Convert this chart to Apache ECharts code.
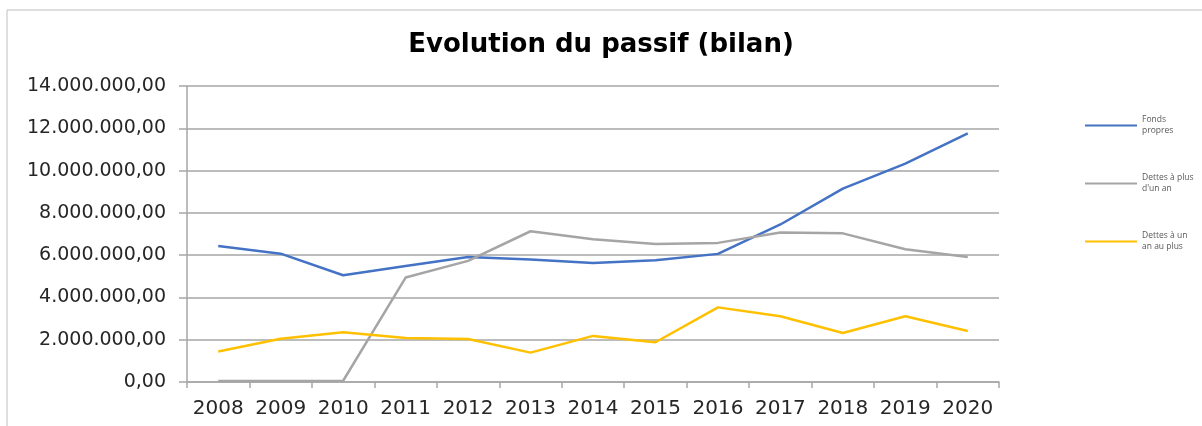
<!DOCTYPE html>
<html>
<head>
<meta charset="utf-8">
<script src="https://cdn.jsdelivr.net/npm/echarts@6/dist/echarts.min.js"></script>
<style>
  html, body { margin: 0; padding: 0; background: #fff; }
  #main { width: 1202px; height: 426px; }
</style>
</head>
<body>
<div id="main"></div>
<script>
var years = ['2008', '2009', '2010', '2011', '2012', '2013', '2014', '2015', '2016', '2017', '2018', '2019', '2020'];

var fondsPropres = [6430000, 6070000, 5050000, 5490000, 5910000, 5790000, 5630000, 5760000, 6060000, 7450000, 9150000, 10330000, 11760000];
var dettesPlusUnAn = [50000, 50000, 60000, 4940000, 5730000, 7130000, 6750000, 6530000, 6580000, 7070000, 7030000, 6280000, 5910000];
var dettesUnAnAuPlus = [1440000, 2050000, 2350000, 2080000, 2030000, 1390000, 2180000, 1880000, 3530000, 3110000, 2320000, 3110000, 2410000];

var seriesNames = ['Fonds propres', 'Dettes à plus d\'un an', 'Dettes à un an au plus'];
var legendLabels = ['Fonds\npropres', 'Dettes à plus\nd\'un an', 'Dettes à un\nan au plus'];

// format 14000000 -> 14.000.000,00
function fmt(v) {
    var s = Math.round(v).toString();
    s = s.replace(/\B(?=(\d{3})+(?!\d))/g, '.');
    return s + ',00';
}

function line(name, data, color) {
    return {
        name: name,
        type: 'line',
        data: data,
        symbol: 'none',
        smooth: false,
        lineStyle: { color: color, width: 2.5 },
        itemStyle: { color: color },
        animation: false
    };
}

var option = {
    backgroundColor: '#fff',
    title: {
        text: 'Evolution du passif (bilan)',
        left: 'center',
        top: 27,
        textStyle: { fontFamily: 'DejaVu Sans', fontWeight: 'bold', fontSize: 26, color: '#000' }
    },
    graphic: [{
        type: 'rect',
        shape: { x: 7, y: 10, width: 1220, height: 430 },
        style: { fill: 'none', stroke: '#bfbfbf', lineWidth: 1 },
        silent: true
    }],
    legend: {
        orient: 'vertical',
        left: 1080,
        top: 104,
        itemGap: 25,
        itemWidth: 52,
        itemHeight: 12,
        icon: 'path://M0,5 L52,5 L52,7 L0,7 Z',
        data: seriesNames,
        formatter: function (name) {
            return legendLabels[seriesNames.indexOf(name)];
        },
        textStyle: { fontFamily: 'Open Sans', fontSize: 8.5, color: '#595959', lineHeight: 11, padding: [11, 0, 0, 0] }
    },
    grid: { left: 187, right: 203, top: 86, bottom: 44 },
    xAxis: {
        type: 'category',
        data: years,
        boundaryGap: true,
        axisLine: { lineStyle: { color: '#a6a6a6', width: 1.5 } },
        axisTick: { show: true, interval: 0, length: 6, lineStyle: { color: '#a6a6a6', width: 1.5 } },
        axisLabel: { interval: 0, hideOverlap: false, fontFamily: 'DejaVu Sans', fontSize: 20, color: '#262626', margin: 17 },
        splitLine: { show: false }
    },
    yAxis: {
        type: 'value',
        min: 0,
        max: 14000000,
        interval: 2000000,
        axisLine: { show: true, lineStyle: { color: '#a6a6a6', width: 1.5 } },
        axisTick: { show: true, length: 8, lineStyle: { color: '#a6a6a6', width: 1.5 } },
        axisLabel: { fontFamily: 'DejaVu Sans', fontSize: 19, color: '#262626', margin: 21, formatter: fmt },
        splitLine: { lineStyle: { color: '#a6a6a6', width: 1.5 } }
    },
    series: [
        line(seriesNames[0], fondsPropres, '#4472c4'),
        line(seriesNames[1], dettesPlusUnAn, '#a5a5a5'),
        line(seriesNames[2], dettesUnAnAuPlus, '#ffc000')
    ]
};

echarts.init(document.getElementById('main')).setOption(option);
</script>
</body>
</html>
